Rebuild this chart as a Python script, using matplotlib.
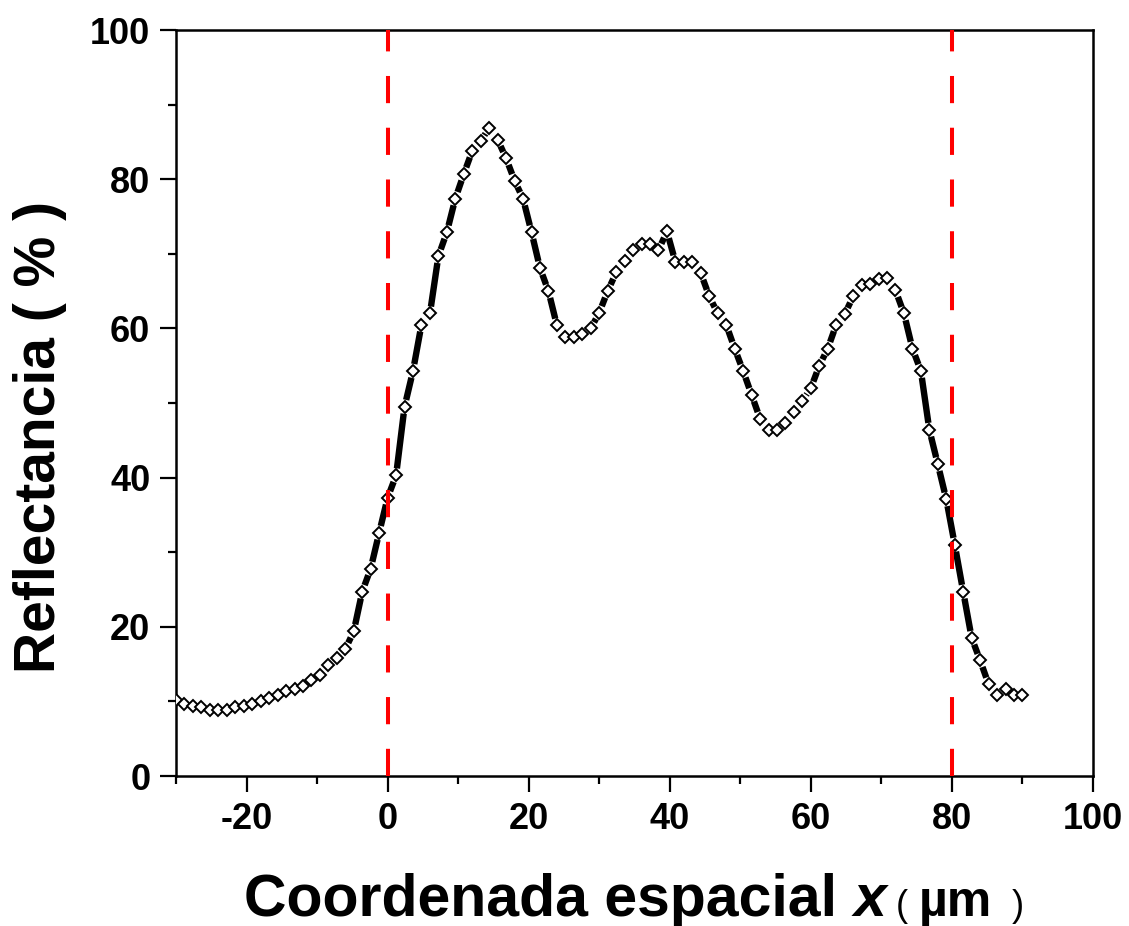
import numpy as np
import matplotlib
matplotlib.use('Agg')
import matplotlib.pyplot as plt
from matplotlib.collections import LineCollection
from matplotlib.ticker import MultipleLocator
from matplotlib.offsetbox import TextArea, HPacker, AnnotationBbox

plt.rcParams['font.family'] = ['Liberation Sans', 'DejaVu Sans']
plt.rcParams['axes.unicode_minus'] = False

# DATA
x_um = [-30.0, -28.8, -27.6, -26.4, -25.2, -24.0, -22.8, -21.6, -20.4, -19.2,
        -18.0, -16.8, -15.6, -14.4, -13.2, -12.0, -10.8, -9.6, -8.4, -7.2,
        -6.0, -4.8, -3.6, -2.4, -1.2, 0.0, 1.2, 2.4, 3.6, 4.8,
        6.0, 7.2, 8.4, 9.6, 10.8, 12.0, 13.2, 14.4, 15.6, 16.8,
        18.0, 19.2, 20.4, 21.6, 22.8, 24.0, 25.2, 26.4, 27.6, 28.8,
        30.0, 31.2, 32.4, 33.6, 34.8, 36.0, 37.2, 38.4, 39.6, 40.8,
        42.0, 43.2, 44.4, 45.6, 46.8, 48.0, 49.2, 50.4, 51.6, 52.8,
        54.0, 55.2, 56.4, 57.6, 58.8, 60.0, 61.2, 62.4, 63.6, 64.8,
        66.0, 67.2, 68.4, 69.6, 70.8, 72.0, 73.2, 74.4, 75.6, 76.8,
        78.0, 79.2, 80.4, 81.6, 82.8, 84.0, 85.2, 86.4, 87.6, 88.8, 90.0]
reflect = [10.2, 9.65, 9.4, 9.2, 8.9, 8.9, 8.9, 9.2, 9.4, 9.6,
           10.0, 10.4, 10.9, 11.4, 11.6, 12.1, 12.9, 13.5, 14.9, 15.8,
           17.0, 19.4, 24.7, 27.8, 32.6, 37.3, 40.3, 49.5, 54.3, 60.5,
           62.0, 69.7, 72.9, 77.4, 80.7, 83.8, 85.1, 86.9, 85.3, 82.8,
           79.8, 77.4, 72.9, 68.1, 65.0, 60.4, 58.8, 58.8, 59.3, 60.0,
           62.1, 65.0, 67.5, 69.0, 70.5, 71.3, 71.3, 70.5, 73.0, 68.9,
           68.9, 68.9, 67.4, 64.3, 62.0, 60.5, 57.3, 54.3, 51.1, 47.9,
           46.4, 46.4, 47.3, 48.8, 50.3, 52.0, 55.0, 57.3, 60.5, 61.9,
           64.3, 65.8, 65.9, 66.6, 66.7, 65.1, 62.0, 57.3, 54.3, 46.4,
           41.8, 37.1, 31.0, 24.7, 18.5, 15.5, 12.3, 10.8, 11.7, 10.8, 10.8]
bounds = [0, 80]

fig = plt.figure(figsize=(11.29, 9.26), dpi=100)
ax = fig.add_axes([176/1129, 150/926, 917/1129, 746/926])
ax.set_xlim(-30, 100)
ax.set_ylim(0, 100)

#AXES STYLE
for sp in ax.spines.values():
    sp.set_linewidth(1.8)
ax.xaxis.set_minor_locator(MultipleLocator(10))
ax.yaxis.set_major_locator(MultipleLocator(20))
ax.yaxis.set_minor_locator(MultipleLocator(10))
ax.set_xticks([-20, 0, 20, 40, 60, 80, 100])
ax.tick_params(which='major', direction='out', length=11.5, width=1.6, labelsize=26, pad=7)
ax.tick_params(which='minor', direction='out', length=6, width=1.6)
for lab in ax.get_xticklabels() + ax.get_yticklabels():
    lab.set_fontweight('bold')

#CURVE: thick line with gaps around the symbols
pts = ax.transData.transform(np.column_stack([x_um, reflect]))
inv = ax.transData.inverted()
gap = 7.0
segs = []
for p, q in zip(pts[:-1], pts[1:]):
    d = q - p
    L = np.hypot(d[0], d[1])
    if L > 2 * gap + 1:
        u = d / L
        segs.append(inv.transform(np.array([p + u * gap, q - u * gap])))
ax.add_collection(LineCollection(segs, colors='black', linewidths=4.6, capstyle='butt', zorder=2))
ax.plot(x_um, reflect, ls='none', marker='D', ms=6.2, mfc='white', mec='black', mew=1.4, zorder=3)

#BOUNDARIES
for b in bounds:
    ax.axvline(b, color='red', lw=2.9, ls=(0, (6.75, 6.1)), zorder=4)

#LABELS
fig.text(40/1129, 1 - 437/926, 'Reflectancia ( % )', rotation=90, fontsize=41,
         fontweight='bold', ha='center', va='center')

parts = [TextArea('Coordenada espacial ', textprops=dict(fontsize=42.5, fontweight='bold')),
         TextArea('x', textprops=dict(fontsize=42.5, fontweight='bold', style='italic')),
         TextArea(' ( ', textprops=dict(fontsize=26)),
         TextArea('\u00b5m', textprops=dict(fontsize=36, fontweight='bold')),
         TextArea('  )', textprops=dict(fontsize=26))]
xlab = HPacker(children=parts, align='baseline', pad=0, sep=0)
ab = AnnotationBbox(xlab, (634, -1.5), xycoords='figure pixels', box_alignment=(0.5, 0),
                    frameon=False, pad=0)
fig.add_artist(ab)

fig.savefig('out.png', dpi=100)
